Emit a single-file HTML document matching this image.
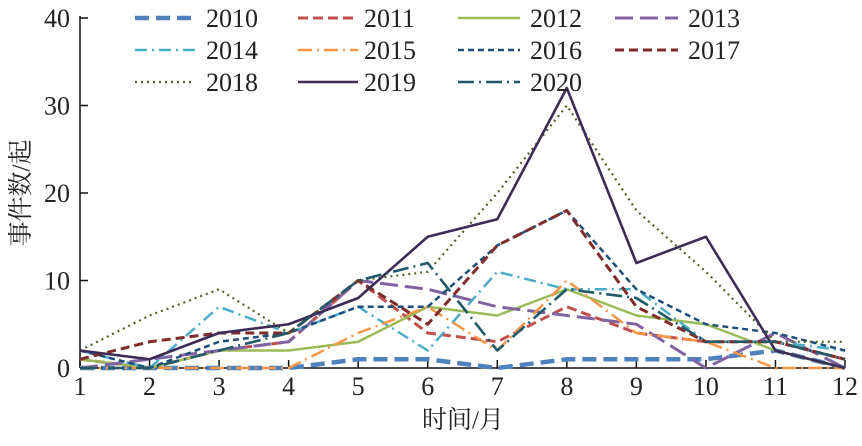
<!DOCTYPE html>
<html><head><meta charset="utf-8"><style>
body{margin:0;background:#fff;}
svg text{font-family:"Liberation Serif","Noto Serif CJK SC",serif;fill:#222;}
</style></head><body>
<svg id="chart" width="862" height="441" viewBox="0 0 862 441" xmlns="http://www.w3.org/2000/svg">
<g id="axes"></g><g id="series"></g><g id="legend"></g>
</svg>
<script>
const months=[1,2,3,4,5,6,7,8,9,10,11,12];
const yTicks=[0,10,20,30,40];
const years=["2010","2011","2012","2013","2014","2015","2016","2017","2018","2019","2020"];
const s2010=[0,0,0,0,1,1,0,1,1,1,2,0];
const s2011=[1,0,2,3,10,4,3,7,4,3,3,1];
const s2012=[1,0,2,2,3,7,6,9,6,5,2,0];
const s2013=[0,1,2,3,10,9,7,6,5,0,4,0];
const s2014=[2,0,7,4,7,2,11,9,9,3,3,2];
const s2015=[0,0,0,0,4,7,2,10,4,3,0,0];
const s2016=[2,0,3,4,7,7,14,18,9,5,4,2];
const s2017=[1,3,4,4,10,5,14,18,7,3,3,1];
const s2018=[2,6,9,4,10,11,20,30,18,11,3,3];
const s2019=[2,1,4,5,8,15,17,32,12,15,2,0];
const s2020=[0,0,2,4,10,12,2,9,8,3,3,1];
const seriesData=[s2010,s2011,s2012,s2013,s2014,s2015,s2016,s2017,s2018,s2019,s2020];
const styles=[
 {c:"#4f81bd",w:4.5,d:"14 7"},{c:"#c0504d",w:3,d:"10 5"},{c:"#9bbb59",w:2.5,d:""},
 {c:"#8064a2",w:3,d:"18 7"},{c:"#4bacc6",w:2.5,d:"12 5 2 5"},{c:"#f79646",w:2.5,d:"14 5 2 5"},
 {c:"#1f4e79",w:2.5,d:"6 4"},{c:"#7f2b2b",w:3,d:"9 5"},{c:"#4f6228",w:2.2,d:"2 4"},
 {c:"#3d2c56",w:2.6,d:""},{c:"#215968",w:2.6,d:"16 5 2 5"}];
const NS="http://www.w3.org/2000/svg";
const X0=80,X1=845,Y0=368,Y1=18;
const xs=m=>X0+(m-1)*(X1-X0)/11;
const ys=v=>Y0-v*(Y0-Y1)/40;
function mk(t,a,p){const e=document.createElementNS(NS,t);for(const k in a)e.setAttribute(k,a[k]);p.appendChild(e);return e;}
const ax=document.getElementById("axes");
let e=mk("line",{x1:X0,y1:Y1-2,x2:X0,y2:Y0,stroke:"#111","stroke-width":1.5},ax);


e=mk("line",{x1:X0,y1:Y0,x2:X1,y2:Y0,stroke:"#111","stroke-width":1.5},ax);


yTicks.forEach(v=>{
 mk("line",{x1:X0,y1:ys(v),x2:X0+8,y2:ys(v),stroke:"#111","stroke-width":1.5},ax);
 const t=mk("text",{x:X0-10,y:ys(v)+9,"text-anchor":"end","font-size":26},ax);t.textContent=v;
 
 
});
months.forEach(m=>{
 mk("line",{x1:xs(m),y1:Y0,x2:xs(m),y2:Y0-8,stroke:"#111","stroke-width":1.5},ax);
 const t=mk("text",{x:xs(m),y:Y0+27,"text-anchor":"middle","font-size":26},ax);t.textContent=m;
 
 
});
let t=mk("text",{x:463,y:428,"text-anchor":"middle","font-size":25},ax);t.textContent="时间/月";


t=mk("text",{x:0,y:0,"text-anchor":"middle","font-size":25,transform:"translate(29,193) rotate(-90)"},ax);t.textContent="事件数/起";


const sg=document.getElementById("series");
seriesData.forEach((arr,i)=>{
 const st=styles[i];
 const p=mk("polyline",{points:arr.map((v,j)=>xs(months[j])+","+ys(v)).join(" "),fill:"none",stroke:st.c,"stroke-width":st.w,"stroke-dasharray":st.d,"stroke-linejoin":"round"},sg);
 
 
});
const lg=document.getElementById("legend");
const cols=[[135,195,206],[298,358,364],[458,520,530],[615,678,688]];
years.forEach((y,i)=>{
 const r=Math.floor(i/4),c=i%4,st=styles[i],yy=18+r*32;
 const g=mk("g",{},lg);
 
 
 mk("line",{x1:cols[c][0],y1:yy,x2:cols[c][1],y2:yy,stroke:st.c,"stroke-width":st.w,"stroke-dasharray":st.d},g);
 const tx=mk("text",{x:cols[c][2],y:yy+9,"font-size":26},g);tx.textContent=y;
});
</script>
</body></html>
